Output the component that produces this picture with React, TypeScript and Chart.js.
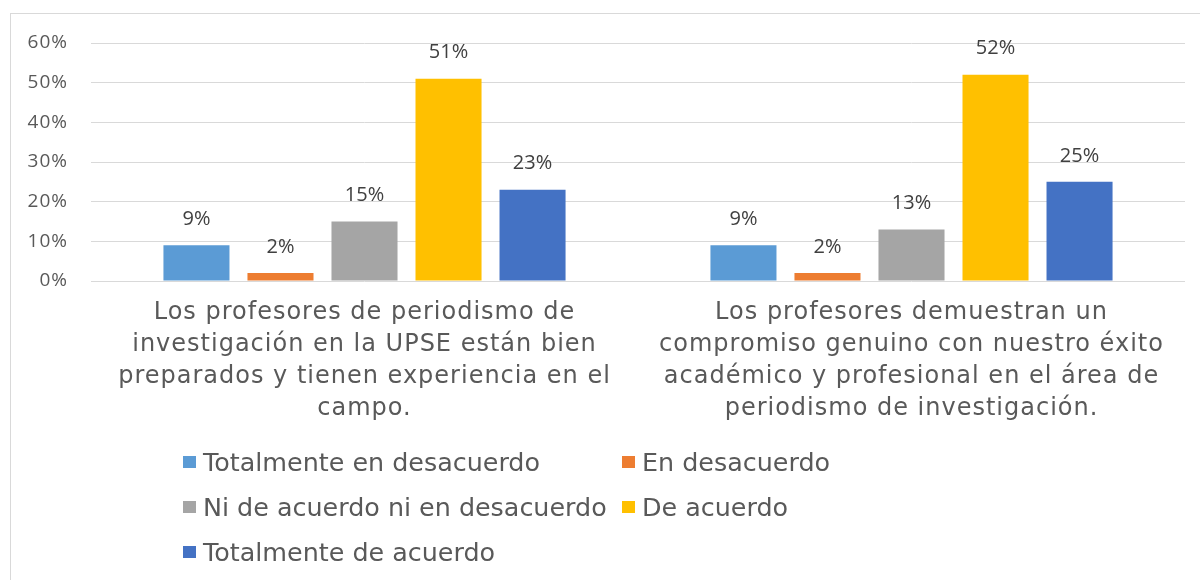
import React, { useEffect, useRef } from "react";
import { Chart, registerables } from "chart.js";

Chart.register(...registerables);

const categories: string[][] = [
  ["Los profesores de periodismo de", "investigación en la UPSE están bien", "preparados y tienen experiencia en el", "campo."],
  ["Los profesores demuestran un", "compromiso genuino con nuestro éxito", "académico y profesional en el área de", "periodismo de investigación."],
];

const seriesNames = [
  "Totalmente en desacuerdo",
  "En desacuerdo",
  "Ni de acuerdo ni en desacuerdo",
  "De acuerdo",
  "Totalmente de acuerdo",
];

const totalmenteEnDesacuerdo = [9, 9];
const enDesacuerdo = [2, 2];
const niNi = [15, 13];
const deAcuerdo = [51, 52];
const totalmenteDeAcuerdo = [23, 25];

const seriesValues = [totalmenteEnDesacuerdo, enDesacuerdo, niNi, deAcuerdo, totalmenteDeAcuerdo];
const seriesColors = ["#5B9BD5", "#ED7D31", "#A5A5A5", "#FFC000", "#4472C4"];

const yTicks = [0, 10, 20, 30, 40, 50, 60];

const dataLabelPlugin = {
  id: "dataLabels",
  beforeDraw(chart: any) {
    chart.ctx.letterSpacing = "1px";
  },
  beforeDatasetsDraw(chart: any) {
    chart.ctx.letterSpacing = "0px";
  },
  afterDatasetsDraw(chart: any) {
    const ctx = chart.ctx;
    ctx.save();
    ctx.font = "20px 'Open Sans'";
    ctx.fillStyle = "#404040";
    ctx.textAlign = "center";
    ctx.textBaseline = "middle";
    chart.data.datasets.forEach((ds: any, i: number) => {
      const meta = chart.getDatasetMeta(i);
      meta.data.forEach((bar: any, j: number) => {
        ctx.fillText(ds.data[j] + "%", bar.x, bar.y - 26);
      });
    });
    ctx.restore();
  },
};

export default function App() {
  const canvasRef = useRef<HTMLCanvasElement | null>(null);

  useEffect(() => {
    if (!canvasRef.current) return;
    const chart = new Chart(canvasRef.current, {
      type: "bar",
      data: {
        labels: categories as any,
        datasets: seriesNames.map((name, i) => ({
          label: name,
          data: seriesValues[i],
          backgroundColor: seriesColors[i],
          borderWidth: 0,
          categoryPercentage: 0.768,
          barPercentage: 0.786,
        })),
      },
      options: {
        animation: false,
        responsive: false,
        maintainAspectRatio: false,
        devicePixelRatio: 1,
        layout: { padding: { left: 0, top: 43, right: 15, bottom: 0 } },
        plugins: {
          legend: { display: false },
          tooltip: { enabled: false },
          title: { display: false },
        },
        scales: {
          x: {
            grid: { display: false, drawTicks: false },
            border: { display: false },
            ticks: {
              color: "#595959",
              font: { family: "'DejaVu Sans'", size: 24, lineHeight: 1.333 },
              padding: 16,
              maxRotation: 0,
              minRotation: 0,
              autoSkip: false,
            },
            afterFit(scale: any) {
              scale.height = 299;
            },
          },
          y: {
            min: 0,
            max: 60,
            afterBuildTicks(scale: any) {
              scale.ticks = yTicks.map((v) => ({ value: v }));
            },
            grid: { color: "#D9D9D9", lineWidth: 1, drawTicks: false },
            border: { display: false },
            ticks: {
              color: "#595959",
              font: { family: "'Open Sans'", size: 19 },
              padding: 23,
              callback: (v: any) => v + "%",
            },
            afterFit(scale: any) {
              scale.width = 91;
            },
          },
        },
      },
      plugins: [dataLabelPlugin],
    } as any);
    return () => chart.destroy();
  }, []);

  const legendRows = [
    [0, 1],
    [2, 3],
    [4],
  ];
  const colX = [183, 622];

  return (
    <div style={{ position: "absolute", left: 0, top: 0, width: 1200, height: 580, overflow: "hidden", background: "#fff" }}>
      <div
        style={{
          position: "absolute",
          left: 10,
          top: 13,
          width: 1220,
          height: 620,
          border: "1px solid #D9D9D9",
          boxSizing: "border-box",
        }}
      />
      <canvas ref={canvasRef} width={1200} height={580} style={{ position: "absolute", left: 0, top: 0, width: 1200, height: 580 }} />
      {legendRows.map((row, r) =>
        row.map((si, c) => (
          <div
            key={si}
            style={{
              position: "absolute",
              left: colX[c],
              top: 462 + r * 45 - 20,
              height: 40,
              display: "flex",
              alignItems: "center",
              whiteSpace: "nowrap",
              fontFamily: "'DejaVu Sans'",
              fontSize: 25.4,
              color: "#595959",
            }}
          >
            <span style={{ display: "inline-block", width: 13, height: 12, background: seriesColors[si], marginRight: 7 }} />
            <span>{seriesNames[si]}</span>
          </div>
        ))
      )}
    </div>
  );
}
